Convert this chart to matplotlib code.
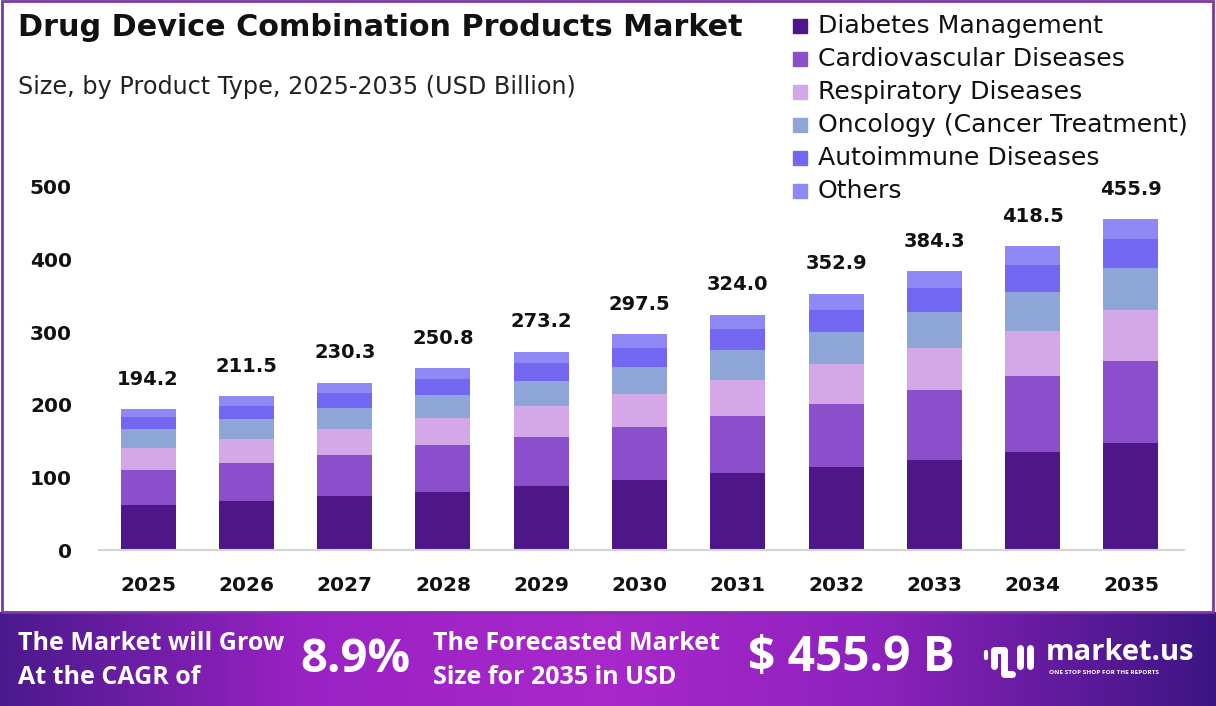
import matplotlib
matplotlib.use("Agg")
import matplotlib.pyplot as plt
import numpy as np
from matplotlib.colors import LinearSegmentedColormap
from matplotlib.patches import Rectangle

plt.rcParams['font.family'] = ['DejaVu Sans']

# data (USD Billion)
years = ['2025', '2026', '2027', '2028', '2029', '2030', '2031', '2032', '2033', '2034', '2035']
totals = [194.2, 211.5, 230.3, 250.8, 273.2, 297.5, 324.0, 352.9, 384.3, 418.5, 455.9]
diabetes = [62, 68, 75, 80, 88, 96, 106, 115, 124, 135, 147]
cardio = [48, 52, 56, 64, 68, 73, 79, 86, 96, 105, 113]
respiratory = [30, 33, 36, 38, 42, 46, 49, 55, 58, 62, 70]
oncology = [26, 27, 29, 31, 35, 37, 41, 44, 50, 54, 58]
autoimmune = [17, 18, 20, 22, 24, 26, 29, 31, 33, 37, 40]
others = [11.2, 13.5, 14.3, 15.8, 16.2, 19.5, 20.0, 21.9, 23.3, 25.5, 27.9]

series = [diabetes, cardio, respiratory, oncology, autoimmune, others]
names = ['Diabetes Management', 'Cardiovascular Diseases', 'Respiratory Diseases',
         'Oncology (Cancer Treatment)', 'Autoimmune Diseases', 'Others']
colors = ['#4d1787', '#8b4fcc', '#d4a8e8', '#8ea5d8', '#7366f0', '#8f88f4']

W, H = 1216, 706
fig = plt.figure(figsize=(W / 100, H / 100), dpi=100)
fig.patch.set_facecolor('white')

# chart axes
ymax = 520
y0_px, yscale = 550, 0.726
ax = fig.add_axes([99 / W, (H - y0_px) / H, (1184 - 99) / W, ymax * yscale / H])
x = np.arange(len(years))
bottom = np.zeros(len(years))
for vals, c in zip(series, colors):
    ax.bar(x, vals, 0.56, bottom=bottom, color=c, linewidth=0, zorder=2)
    bottom += np.array(vals)

for xi, t in zip(x, totals):
    ax.text(xi, t + 28, f'{t:.1f}', ha='center', va='bottom', fontsize=14,
            fontweight='bold', color='#111111')

ax.set_xlim(-0.5, 10.54)
ax.set_ylim(0, ymax)
ax.set_yticks([0, 100, 200, 300, 400, 500])
ax.set_xticks(x)
ax.set_xticklabels(years)
for s in ['top', 'right', 'left']:
    ax.spines[s].set_visible(False)
ax.spines['bottom'].set_color('#d5d5d5')
ax.spines['bottom'].set_linewidth(1.5)
ax.tick_params(axis='both', length=0, labelsize=14.5, colors='#111111')
ax.tick_params(axis='y', pad=19.5)
ax.tick_params(axis='x', pad=19)
for lab in ax.get_xticklabels() + ax.get_yticklabels():
    lab.set_fontweight('bold')

# titles
fig.text(18 / W, 1 - 28 / H, 'Drug Device Combination Products Market', fontsize=21.8,
         fontweight='bold', color='#111111', va='center', ha='left')
fig.text(18 / W, 1 - 87 / H, 'Size, by Product Type, 2025-2035 (USD Billion)', fontsize=17.2,
         color='#222222', va='center', ha='left')

# legend
for i, (n, c) in enumerate(zip(names, colors)):
    yc = 26 + i * 33
    fig.patches.append(Rectangle((793 / W, 1 - (yc + 7) / H), 14 / W, 14 / H,
                                 transform=fig.transFigure, color=c))
    fig.text(818 / W, 1 - yc / H, n, fontsize=18.1, color='#111111', va='center',
             ha='left')

# border of the white panel
fig.patches.append(Rectangle((2 / W, (H - 612) / H), (1213 - 2) / W, 611 / H,
                             transform=fig.transFigure, fill=False,
                             edgecolor='#7a3a9e', linewidth=2))

# bottom banner
bax = fig.add_axes([0, 0, 1, 94 / H])
cmap = LinearSegmentedColormap.from_list(
    'band', [(0, '#4a1a8c'), (0.25, '#9a22c4'), (0.5, '#a828ca'),
             (0.72, '#8e22be'), (1.0, '#3c1582')])
bax.imshow(np.linspace(0, 1, 512)[None, :], aspect='auto', cmap=cmap, extent=[0, W, 0, 94])
bax.set_xlim(0, W)
bax.set_ylim(0, 94)
bax.axis('off')

band_font = ['Open Sans', 'DejaVu Sans']
bax.text(18, 94 - 32, 'The Market will Grow', color='white', fontsize=18,
         fontweight='bold', va='center', family=band_font)
bax.text(18, 94 - 65, 'At the CAGR of', color='white', fontsize=18,
         fontweight='bold', va='center', family=band_font)
bax.text(300, 94 - 47, '8.9%', color='white', fontsize=34, fontweight='bold', va='center',
         family=band_font)
bax.text(433, 94 - 32, 'The Forecasted Market', color='white', fontsize=18,
         fontweight='bold', va='center', family=band_font)
bax.text(433, 94 - 65, 'Size for 2035 in USD', color='white', fontsize=18,
         fontweight='bold', va='center', family=band_font)
bax.text(748, 94 - 47, '$ 455.9 B', color='white', fontsize=34.5, fontweight='bold',
         va='center', family=band_font)

# logo
bax.plot([994, 994, 1004, 1004], [40, 56, 56, 40], color='white', lw=5,
         solid_capstyle='round', solid_joinstyle='round')
bax.plot([1004, 1004, 1012], [40, 32, 32], color='white', lw=5, solid_capstyle='round')
bax.plot([1020, 1020], [40, 58], color='white', lw=5, solid_capstyle='round')
bax.plot([1030, 1030], [40, 58], color='white', lw=5, solid_capstyle='round')
bax.plot([986, 986], [48, 54], color='white', lw=3, solid_capstyle='round')
bax.text(1046, 94 - 40, 'market.us', color='white', fontsize=21, fontweight='bold',
         va='center', family=band_font)
bax.text(1049, 94 - 60, 'ONE STOP SHOP FOR THE REPORTS', color='white', fontsize=4.6,
         fontweight='bold', va='center', family=band_font)

fig.savefig('out.png', dpi=100)
